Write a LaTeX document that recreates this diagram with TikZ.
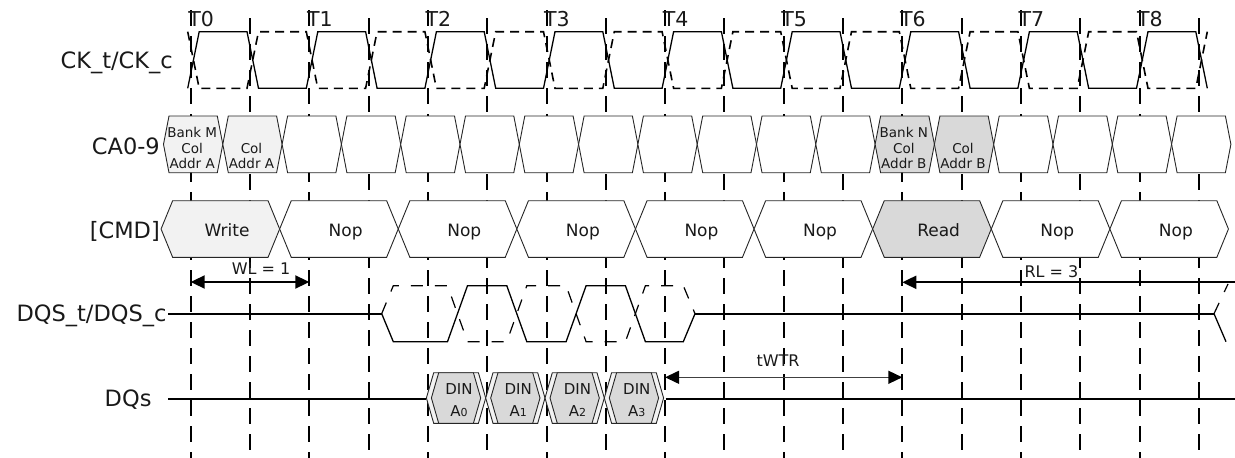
\documentclass[tikz,border=0pt]{standalone}
\usepackage{fontspec}
\setmainfont{DejaVu Sans}
\usetikzlibrary{arrows.meta}
\definecolor{litegray}{HTML}{F2F2F2}
\definecolor{midgray}{HTML}{D9D9D9}

\begin{document}
\begin{tikzpicture}[x=1pt, y=-1pt,
  every node/.style={inner sep=0pt, text=black!90},
  signame/.style={font=\fontsize{22.5}{26}\selectfont, anchor=base east},
  clkname/.style={font=\fontsize{20.5}{24}\selectfont, anchor=base west},
  cmdtext/.style={font=\fontsize{17}{20}\selectfont, anchor=base},
  catext/.style={font=\fontsize{13.5}{15.3}\selectfont, align=center},
  dintext/.style={font=\fontsize{15}{21.4}\selectfont, align=center},
  gridline/.style={line width=2pt, dash pattern=on 16pt off 10pt},
  wave/.style={line width=1.3pt},
  wavebar/.style={line width=1.6pt, dash pattern=on 9pt off 6pt},
  dqsbar/.style={line width=1.2pt, dash pattern=on 12pt off 12pt},
  level/.style={line width=2.2pt},
  cell/.style={draw=black!85, line width=0.9pt},
  span/.style={line width=2pt, {Triangle[length=14pt,width=13pt,color=black]}-{Triangle[length=14pt,width=13pt,color=black]}},
  spanlbl/.style={font=\fontsize{16}{19}\selectfont}
]
\useasboundingbox (0,0) rectangle (1235,458);

% clock edges
\foreach \k in {0,...,8} {
  \draw[gridline] ({190.7+\k*118.6},10) -- ({190.7+\k*118.6},458);
  \draw[gridline] ({250+\k*118.6},18) -- ({250+\k*118.6},458);
  \node[clkname] (t\k) at ({188.2+\k*118.6},26.7) {T\k};
}

% signal names
\node[signame] (ck) at (173,68) {CK\_t/CK\_c};
\node[signame] (ca) at (160,154.7) {CA0-9};
\node[signame] (cmd) at (160,238) {[CMD]};
\node[signame] (dqs) at (166.7,321) {DQS\_t/DQS\_c};
\node[signame] (dq) at (151.7,406) {DQs};

% CK_t / CK_c
\draw[wave] (187.7,88.3)
  \foreach \k in {0,...,7} {
    -- ({199.2+\k*118.6},31.7) -- ({247+\k*118.6},31.7) -- ({258.5+\k*118.6},88.3) -- ({306.3+\k*118.6},88.3)
  }
  -- (1148,31.7) -- (1195.8,31.7) -- (1207.3,88.3);
\draw[wavebar] (187.7,31.7)
  \foreach \k in {0,...,7} {
    -- ({199.2+\k*118.6},88.3) -- ({247+\k*118.6},88.3) -- ({258.5+\k*118.6},31.7) -- ({306.3+\k*118.6},31.7)
  }
  -- (1148,88.3) -- (1195.8,88.3) -- (1207.3,31.7);

% CA bus
\foreach \k in {0,...,17} {
  \pgfmathsetmacro\xl{163.5+\k*59.3}
  \def\fc{white}
  \ifnum\k<2 \def\fc{litegray}\fi
  \ifnum\k>11 \ifnum\k<14 \def\fc{midgray}\fi\fi
  \draw[cell, fill=\fc] (\xl,144.3) -- (\xl+5.5,116) -- (\xl+53.8,116) -- (\xl+59.3,144.3) -- (\xl+53.8,172.7) -- (\xl+5.5,172.7) -- cycle;
}
\node[catext] (bankm) at (192.2,148) {Bank M\\Col\\Addr A};
\node[catext] (cola) at (251.5,155.7) {Col\\Addr A};
\node[catext] (bankn) at (903.8,148) {Bank N\\Col\\Addr B};
\node[catext] (colb) at (963,155.7) {Col\\Addr B};

% commands
\foreach \k/\cmdname/\fc in {0/Write/litegray, 1/Nop/white, 2/Nop/white, 3/Nop/white, 4/Nop/white, 5/Nop/white, 6/Read/midgray, 7/Nop/white, 8/Nop/white} {
  \pgfmathsetmacro\xl{161.05+\k*118.6}
  \draw[cell, fill=\fc] (\xl,229) -- (\xl+11.6,200.7) -- (\xl+107,200.7) -- (\xl+118.6,229) -- (\xl+107,257.3) -- (\xl+11.6,257.3) -- cycle;
  \node[cmdtext] (op\k) at (\xl+66,236.2) {\cmdname};
}

% DQS_t / DQS_c
\draw[level] (168,313.7) -- (381.7,313.7);
\draw[level] (695,313.7) -- (1214,313.7);
\draw[wave] (381.7,313.7) -- (393.3,341.7) -- (447.5,341.7) -- (467.5,285.7) -- (506.8,285.7) -- (526.8,341.7) -- (566.1,341.7) -- (586.1,285.7) -- (625.4,285.7) -- (645.4,341.7) -- (683.3,341.7) -- (695,313.7);
\draw[dqsbar] (381.7,313.7) -- (393.3,285.7) -- (447.5,285.7) -- (467.5,341.7) -- (506.8,341.7) -- (526.8,285.7) -- (566.1,285.7) -- (586.1,341.7) -- (625.4,341.7) -- (645.4,285.7) -- (683.3,285.7) -- (695,313.7);
\draw[wave] (1214,313.7) -- (1226,341.7);
\draw[dqsbar] (1214,313.7) -- (1228,284);

% DQs
\draw[level] (168,399.3) -- (426.4,399.3);
\draw[level] (665.6,399.3) -- (1235,399.3);
\foreach \k in {0,...,3} {
  \pgfmathsetmacro\xl{426.4+\k*59.3}
  \draw[cell, fill=litegray] (\xl,398) -- (\xl+7.3,372.7) -- (\xl+52,372.7) -- (\xl+59.3,398) -- (\xl+52,423.3) -- (\xl+7.3,423.3) -- cycle;
  \draw[cell, fill=midgray] (\xl+5,398) -- (\xl+12.3,372.7) -- (\xl+47,372.7) -- (\xl+54.3,398) -- (\xl+47,423.3) -- (\xl+12.3,423.3) -- cycle;
  \node[dintext] (din\k) at (\xl+32.5,400) {DIN\\A{\fontsize{11}{11}\selectfont\k}};
}

% latencies
\coordinate (wlL) at (190.7,282);
\coordinate (wlR) at (309.3,282);
\draw[span] (wlL) -- (wlR);
\node[spanlbl] (wl) at (261,269) {WL = 1};

\coordinate (rlL) at (902.3,282.3);
\coordinate (rlR) at (1235,282.3);
\draw[line width=2pt, -{Triangle[length=14pt,width=13pt]}] (rlR) -- (rlL);
\node[spanlbl] (rl) at (1051.5,271.7) {RL = 3};

\coordinate (wtrL) at (665.1,377.3);
\coordinate (wtrR) at (902.3,377.3);
\draw[span, line width=1.5pt, draw=black!75] (wtrL) -- (wtrR);
\node[spanlbl] (wtr) at (778,360.7) {tWTR};
\end{tikzpicture}
\end{document}
